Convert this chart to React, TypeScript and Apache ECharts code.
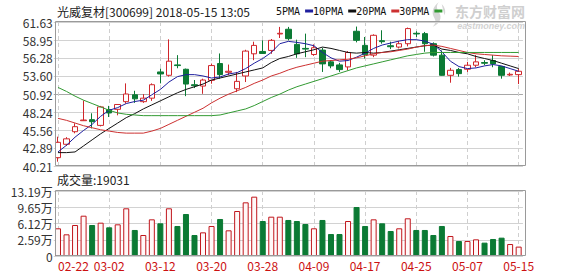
import React, { useEffect, useRef } from 'react';
import * as echarts from 'echarts';

const dates = [
  '02-22', '02-23', '02-26', '02-27', '02-28', '03-01', '03-02', '03-05', '03-06', '03-07',
  '03-08', '03-09', '03-12', '03-13', '03-14', '03-15', '03-16', '03-19', '03-20', '03-21',
  '03-22', '03-23', '03-26', '03-27', '03-28', '03-29', '03-30', '04-02', '04-03', '04-04',
  '04-09', '04-10', '04-11', '04-12', '04-13', '04-16', '04-17', '04-18', '04-19', '04-20',
  '04-23', '04-24', '04-25', '04-26', '04-27', '05-02', '05-03', '05-04', '05-07', '05-08',
  '05-09', '05-10', '05-11', '05-14', '05-15',
];

const opens = [
  41.45, 43.44, 45.31, 46.95, 47.1, 46.25, 48.6, 48.64, 49.78, 50.8,
  49.78, 50.3, 54.2, 53.7, 55.25, 54.6, 52.3, 52.1, 52.95, 55.45,
  54.15, 51.7, 53.6, 56.9, 57.25, 57.4, 59.85, 60.55, 58.3, 57.7,
  56.8, 57.45, 55.7, 55.25, 54.95, 60.25, 58.15, 56.7, 58.85, 58.1,
  57.9, 58.4, 59.95, 59.9, 58.4, 56.7, 53.7, 54.55, 54.6, 55.2,
  55.6, 55.9, 55.0, 53.75, 53.8,
];
const closes = [
  43.73, 44.25, 46.06, 47.05, 46.8, 49.0, 48.1, 49.36, 50.92, 50.2,
  50.3, 52.3, 53.9, 55.8, 55.15, 52.4, 52.15, 53.0, 55.15, 53.8,
  54.3, 52.8, 57.3, 58.15, 56.95, 58.9, 59.95, 59.15, 56.9, 57.6,
  57.8, 55.4, 55.1, 54.55, 57.1, 58.9, 56.75, 59.65, 58.7, 57.95,
  58.4, 60.65, 59.85, 58.4, 56.7, 53.7, 54.45, 53.95, 55.2, 55.7,
  55.5, 55.4, 53.7, 53.85, 54.3,
];
const lows = [
  40.85, 43.19, 45.07, 46.9, 45.8, 46.1, 47.5, 47.75, 49.5, 49.6,
  49.6, 49.9, 52.5, 53.5, 54.75, 50.6, 51.8, 50.95, 52.45, 53.2,
  53.7, 51.2, 52.7, 55.95, 56.9, 56.9, 59.25, 58.9, 56.3, 56.4,
  56.6, 54.2, 54.75, 54.2, 54.45, 58.6, 56.2, 56.4, 58.4, 57.6,
  57.7, 58.0, 59.4, 57.2, 56.5, 53.65, 52.6, 53.5, 54.2, 54.9,
  55.2, 54.9, 53.2, 53.6, 52.4,
];
const highs = [
  44.57, 44.5, 46.56, 49.95, 48.05, 49.15, 49.15, 49.4, 52.5, 51.4,
  50.9, 52.5, 54.7, 59.05, 56.7, 54.7, 53.0, 53.2, 55.45, 56.95,
  55.3, 54.2, 57.5, 58.7, 58.9, 59.1, 60.9, 60.9, 59.0, 59.9,
  58.3, 57.8, 55.95, 55.55, 57.3, 60.95, 59.4, 59.8, 60.4, 58.7,
  58.8, 60.8, 60.25, 60.15, 58.6, 57.4, 54.8, 54.8, 55.7, 56.7,
  55.95, 56.7, 55.1, 54.1, 54.7,
];

// volume in 万 (10k)
const volumes = [
  5.62, 4.4, 6.29, 8.18, 6.29, 6.76, 5.82, 6.43, 9.68, 5.28,
  4.26, 7.44, 6.63, 9.68, 6.09, 8.52, 4.26, 4.8, 6.09, 7.51,
  5.21, 9.13, 10.89, 12.04, 7.1, 7.98, 7.98, 7.31, 7.1, 6.49,
  5.62, 7.31, 4.46, 4.46, 7.1, 9.94, 6.09, 7.44, 6.63, 5.07,
  5.62, 7.65, 5.28, 5.28, 4.26, 6.09, 4.06, 3.04, 3.04, 3.38,
  2.71, 3.45, 3.72, 2.43, 1.9031,
];

const ma5 = [
  42.3, 43.3, 44.5, 45.5, 46.4, 47.6, 48.5, 48.9, 49.5, 49.8,
  50.0, 50.8, 51.6, 52.7, 53.5, 53.8, 53.8, 53.6, 53.3, 53.45,
  53.9, 54.1, 54.7, 55.5, 56.2, 57.1, 58.4, 58.75, 58.6, 58.4,
  58.1, 57.1, 56.3, 55.8, 55.9, 56.4, 57.0, 57.7, 58.2, 58.5,
  58.8, 59.0, 59.0, 58.8, 58.3, 57.2, 55.8, 55.0, 54.7, 54.8,
  55.1, 55.3, 55.1, 54.7, 54.3,
];
const ma10 = [
  42.2, 42.2, 42.3, 43.2, 44.1, 45.0, 45.8, 46.6, 47.4, 48.0,
  48.7, 49.3, 49.9, 50.5, 51.1, 51.6, 52.0, 52.4, 53.0, 53.3,
  53.6, 53.9, 54.2, 54.5, 54.8, 55.6, 56.2, 56.5, 56.9, 57.2,
  57.5, 57.9, 57.7, 57.4, 57.1, 57.0, 57.1, 57.0, 57.1, 57.3,
  57.5, 57.7, 57.9, 58.1, 58.2, 57.6, 57.4, 57.1, 56.9, 56.5,
  56.2, 55.9, 55.5, 55.1, 54.7,
];
const ma20 = [
  47.3, 47.0, 46.6, 46.2, 45.9, 45.6, 45.4, 45.2, 45.1, 45.1,
  45.1, 45.4, 45.8, 46.4, 47.0, 47.6, 48.2, 48.8, 49.6, 50.3,
  50.9, 51.4, 51.9, 52.5, 53.0, 53.6, 54.0, 54.5, 54.9, 55.2,
  55.5, 55.8, 55.9, 56.0, 56.1, 56.3, 56.6, 56.9, 57.1, 57.2,
  57.4, 57.6, 57.9, 58.1, 58.2, 58.0, 57.7, 57.4, 57.1, 56.9,
  56.8, 56.7, 56.6, 56.55, 56.5,
];
const ma30 = [
  51.9, 51.3, 50.6, 50.0, 49.5, 49.0, 48.5, 48.1, 47.9, 47.8,
  47.7, 47.7, 47.7, 47.7, 47.7, 47.7, 47.7, 47.7, 47.7, 47.8,
  48.1, 48.4, 48.7, 49.2, 49.8, 50.4, 50.9, 51.5, 52.0, 52.4,
  52.8, 53.2, 53.6, 54.0, 54.4, 54.8, 55.1, 55.4, 55.7, 56.0,
  56.3, 56.6, 56.8, 57.0, 57.1, 57.1, 57.1, 57.1, 57.1, 57.1,
  57.1, 57.1, 57.1, 57.1, 57.1,
];

const priceTicks = [40.21, 42.89, 45.56, 48.24, 50.92, 53.6, 56.28, 58.95, 61.63];
const volumeMax = 13.19;
const volumeTickLabels = ['0', '2.59万', '6.12万', '9.65万', '13.19万'];
const maNames = ['5PMA', '10PMA', '20PMA', '30PMA'];
const titleText = '光威复材[300699] 2018-05-15 13:05';
const volumeText = '成交量:19031';
const watermarkCn = '东方财富网';
const watermarkEn = 'eastmoney.com';
const labelEvery = 6;

const FONT = '"Noto Sans CJK SC", "Liberation Sans", sans-serif';
const MONO = '"DejaVu Sans Mono", "Liberation Mono", monospace';
const RED = '#d0262b';
const GREEN = '#0b7a34';
const MA_COLORS = ['#1f1f9e', '#111111', '#cc3030', '#329a32'];

export default function App() {
  const ref = useRef<HTMLDivElement>(null);

  useEffect(() => {
    if (!ref.current) return;
    try {
      echarts.graphic.registerShape(
        'emLogo',
        echarts.graphic.extendPath(
          'M 10 0 C 3 5 1 11 5 17 C 7 20 6 23 3 26 C 11 23 14 16 10 11 C 7 7 7 3 10 0 Z M 13 2 C 17 6 18 10 16 14 C 15 10 14 6 13 2 Z',
          {}
        )
      );
    } catch (e) {
      /* ignore */
    }
    const chart = echarts.init(ref.current, null, { renderer: 'svg' });

    const gridLeft = 53.73;
    const gridWidth = 469.2;
    const volSteps = volumeTickLabels.length - 1;

    const splitColors = priceTicks.map((_, i) => (i === 4 ? '#a8a8a8' : '#d2d2d2'));

    const option: any = {
      animation: false,
      backgroundColor: '#ffffff',
      textStyle: { fontFamily: FONT },
      legend: {
        data: maNames,
        left: 276,
        top: 6,
        align: 'right',
        icon: 'rect',
        itemWidth: 8,
        itemHeight: 3,
        itemGap: 0,
        padding: 0,
        selectedMode: false,
        textStyle: { fontSize: 10, color: '#111', fontFamily: MONO },
      },
      grid: [
        { left: gridLeft, top: 22, width: gridWidth, height: 144 },
        { left: gridLeft, top: 191, width: gridWidth, height: 65 },
      ],
      xAxis: [
        {
          gridIndex: 0,
          type: 'category',
          data: dates,
          boundaryGap: true,
          axisLine: { show: false },
          axisTick: { show: false, alignWithLabel: true },
          axisLabel: { show: false },
          splitLine: {
            show: true,
            interval: (i: number) => i % labelEvery === 0,
            alignWithLabel: true,
            lineStyle: { color: '#cfcfcf', type: [4, 3], width: 1 },
          },
        },
        {
          gridIndex: 1,
          type: 'category',
          data: dates,
          boundaryGap: true,
          axisLine: { show: false },
          axisTick: { show: false, alignWithLabel: true },
          axisLabel: {
            show: true,
            interval: (i: number) => i % labelEvery === 0,
            alignMinLabel: 'left',
            color: '#cc1111',
            fontSize: 12,
            margin: 3,
            fontFamily: FONT,
          },
          splitLine: {
            show: true,
            interval: (i: number) => i % labelEvery === 0,
            alignWithLabel: true,
            lineStyle: { color: '#cfcfcf', type: [4, 3], width: 1 },
          },
        },
      ],
      yAxis: [
        {
          gridIndex: 0,
          type: 'value',
          min: priceTicks[0],
          max: priceTicks[priceTicks.length - 1],
          axisLine: { show: false },
          axisTick: { show: false, customValues: priceTicks },
          axisLabel: {
            customValues: priceTicks,
            formatter: (v: number) => v.toFixed(2),
            color: '#333',
            fontSize: 12,
            lineHeight: 14,
            margin: 1,
            fontFamily: FONT,
          },
          splitLine: { show: true, lineStyle: { color: splitColors, width: 1 } },
        },
        {
          gridIndex: 1,
          type: 'value',
          min: 0,
          max: volumeMax,
          interval: volumeMax / volSteps,
          axisLine: { show: false },
          axisTick: { show: false },
          axisLabel: {
            formatter: (v: number) => volumeTickLabels[Math.round((v / volumeMax) * volSteps)],
            color: '#333',
            fontSize: 12,
            lineHeight: 12,
            margin: 1,
            fontFamily: FONT,
          },
          splitLine: { show: true, lineStyle: { color: '#d2d2d2', width: 1 } },
        },
      ],
      series: [
        {
          type: 'candlestick',
          name: 'K',
          xAxisIndex: 0,
          yAxisIndex: 0,
          barWidth: 6,
          data: dates.map((_, i) => [opens[i], closes[i], lows[i], highs[i]]),
          itemStyle: {
            color: '#ffffff',
            color0: GREEN,
            borderColor: RED,
            borderColor0: GREEN,
            borderWidth: 1,
          },
          z: 3,
        },
        ...[ma5, ma10, ma20, ma30].map((d, k) => ({
          type: 'line',
          name: maNames[k],
          xAxisIndex: 0,
          yAxisIndex: 0,
          data: d,
          symbol: 'none',
          smooth: false,
          color: MA_COLORS[k],
          lineStyle: { color: MA_COLORS[k], width: 1 },
          z: 4,
        })),
        {
          type: 'bar',
          name: 'VOL',
          xAxisIndex: 1,
          yAxisIndex: 1,
          barWidth: 6,
          data: volumes.map((v, i) => ({
            value: v,
            itemStyle:
              closes[i] >= opens[i]
                ? { color: '#fff8f8', borderColor: '#c0161c', borderWidth: 1 }
                : { color: GREEN, borderColor: GREEN, borderWidth: 1 },
          })),
        },
      ],
      graphic: [
        {
          type: 'emLogo',
          x: 430,
          y: 2,
          scaleX: 0.9,
          scaleY: 0.95,
          style: { fill: '#d6d6d6' },
          z: 0,
        },
        {
          type: 'text',
          x: 525,
          y: 10.5,
          style: {
            text: watermarkCn,
            font: 'bold 14px ' + FONT,
            fill: '#cfcfcf',
            align: 'right',
            verticalAlign: 'middle',
          },
          z: 0,
        },
        {
          type: 'text',
          x: 525,
          y: 25.5,
          style: {
            text: watermarkEn,
            font: 'italic bold 9px "Liberation Sans", sans-serif',
            fill: '#d2d2d2',
            align: 'right',
            verticalAlign: 'middle',
          },
          z: 0,
        },
        {
          type: 'text',
          x: 57,
          y: 5,
          style: { text: titleText, font: '12px ' + FONT, fill: '#222' },
        },
        {
          type: 'text',
          x: 57,
          y: 173,
          style: { text: volumeText, font: '12px ' + FONT, fill: '#222' },
        },
        {
          type: 'rect',
          shape: { x: 55.5, y: 21.5, width: 470, height: 144 },
          style: { fill: 'none', stroke: '#9a9a9a', lineWidth: 1 },
          z: 10,
        },
        {
          type: 'rect',
          shape: { x: 55.5, y: 190.5, width: 470, height: 65 },
          style: { fill: 'none', stroke: '#9a9a9a', lineWidth: 1 },
          z: 10,
        },
      ],
    };

    chart.setOption(option);
    return () => chart.dispose();
  }, []);

  return (
    <div
      ref={ref}
      style={{ position: 'fixed', left: 0, top: 0, width: 578, height: 276, background: '#fff' }}
    />
  );
}
